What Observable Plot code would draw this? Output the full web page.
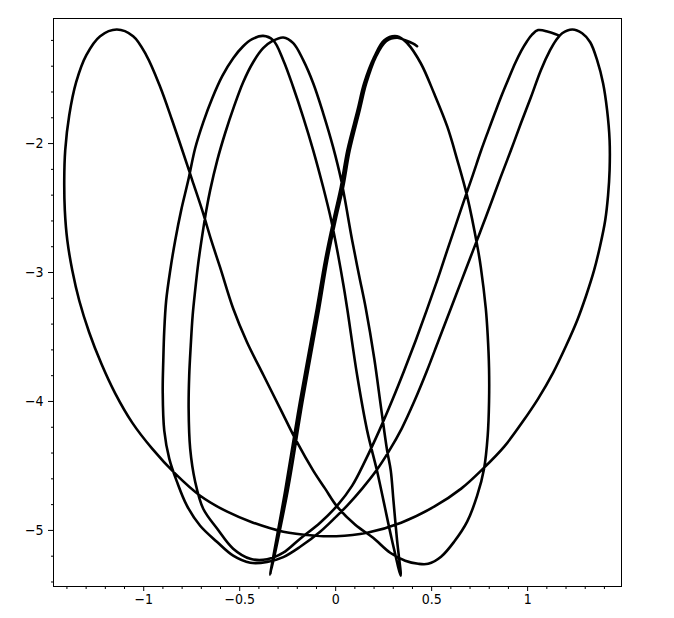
<!DOCTYPE html>
<html>
<head>
<meta charset="utf-8">
<script src="https://cdn.jsdelivr.net/npm/d3@7"></script>
<script src="https://cdn.jsdelivr.net/npm/@observablehq/plot@0.6"></script>
<style>
  html, body { margin: 0; padding: 0; background: #ffffff; }
  #chart { width: 674px; height: 618px; }
</style>
</head>
<body>
<div id="chart"></div>
<script>
// Parametric curve (one continuous path)
const curveX = [
  1.159, 1.107, 1.055, 1.023, 0.997, 0.966, 0.935, 0.904, 0.867, 0.831, 0.794, 0.758,
  0.714, 0.669, 0.625, 0.581, 0.529, 0.474, 0.417, 0.357, 0.294, 0.227, 0.154, 0.086,
  0.008, -0.081, -0.185, -0.273, -0.357, -0.445, -0.534, -0.617, -0.690, -0.732, -0.758, -0.766,
  -0.763, -0.755, -0.745, -0.732, -0.716, -0.695, -0.674,
  -0.654, -0.617, -0.576, -0.529, -0.482, -0.430, -0.378, -0.331, -0.273,
  -0.221, -0.169, -0.117, -0.065, -0.013, 0.029, 0.086, 0.122, 0.157, 0.201, 0.237, 0.268, 0.287, 0.301, 0.320, 0.339,
  0.294, 0.249, 0.215, 0.164, 0.112, 0.060, 0.039, 0.013, -0.023, -0.065, -0.117, -0.169, -0.221, -0.273, -0.326, -0.378,
  -0.435, -0.482, -0.534, -0.591, -0.643, -0.690, -0.732, -0.768, -0.805, -0.836,
  -0.862, -0.883, -0.893, -0.898, -0.901, -0.893, -0.867, -0.827, -0.775, -0.706,
  -0.619, -0.534, -0.445, -0.357, -0.273,
  -0.185, -0.081, -0.003, 0.061, 0.138, 0.208, 0.276, 0.344, 0.409, 0.474,
  0.536, 0.596, 0.656, 0.716, 0.766, 0.815, 0.859, 0.913, 0.965, 1.017,
  1.069, 1.117, 1.148, 1.180, 1.233,
  1.284, 1.326, 1.362, 1.393, 1.414, 1.427, 1.427, 1.419, 1.404, 1.378,
  1.346, 1.305, 1.258, 1.201, 1.133, 1.055, 0.971, 0.878, 0.768, 0.654,
  0.513, 0.341, 0.164, 0.003, -0.117, -0.273, -0.430, -0.565, -0.706, -0.836,
  -0.956, -1.060, -1.148, -1.221, -1.284, -1.336, -1.372, -1.398, -1.411, -1.414,
  -1.409, -1.388, -1.352, -1.299, -1.227, -1.140,
  -1.055, -0.987, -0.914, -0.852, -0.799, -0.747, -0.695, -0.648, -0.602, -0.534,
  -0.463, -0.376, -0.289, -0.202, -0.117, -0.055, 0.008, 0.102, 0.195, 0.284,
  0.362, 0.430, 0.482, 0.549, 0.617, 0.685, 0.737, 0.773, 0.792, 0.799,
  0.799, 0.792, 0.782, 0.756, 0.739, 0.686, 0.634, 0.582, 0.513, 0.444,
  0.374, 0.320,
  0.253, 0.201, 0.148, 0.114, 0.061, 0.027, -0.008, -0.055, -0.098, -0.185,
  -0.263, -0.341, -0.250, -0.172, -0.086, -0.044, 0.003, 0.039, 0.073, 0.125,
  0.159, 0.211, 0.263, 0.320, 0.362, 0.404, 0.424
];
const curveY = [
  -1.159, -1.132, -1.120, -1.155, -1.206, -1.283, -1.377, -1.485, -1.617, -1.757, -1.905, -2.052,
  -2.246, -2.440, -2.634, -2.828, -3.061, -3.294, -3.527, -3.760, -3.993, -4.226, -4.459, -4.653,
  -4.808, -4.940, -5.064, -5.173, -5.224, -5.220, -5.142, -4.987, -4.832, -4.622, -4.366, -4.055,
  -3.799, -3.566, -3.333, -3.139, -2.929, -2.712, -2.518,
  -2.363, -2.130, -1.920, -1.710, -1.524, -1.369, -1.260, -1.206, -1.177,
  -1.221, -1.353, -1.532, -1.765, -2.029, -2.285, -2.751, -3.023, -3.279, -3.667, -4.055, -4.381, -4.536, -4.769, -5.080, -5.352,
  -5.080, -4.769, -4.536, -4.226, -3.799, -3.279, -3.085, -2.867, -2.596, -2.339, -2.052, -1.796, -1.563, -1.353, -1.198, -1.165,
  -1.190, -1.245, -1.338, -1.477, -1.648, -1.835, -2.036, -2.285, -2.518, -2.751,
  -2.984, -3.217, -3.450, -3.682, -3.923, -4.226, -4.443, -4.622, -4.808, -4.964,
  -5.088, -5.196, -5.251, -5.245, -5.207,
  -5.127, -5.010, -4.901, -4.806, -4.676, -4.544, -4.389, -4.210, -4.001, -3.768,
  -3.527, -3.294, -3.061, -2.828, -2.634, -2.440, -2.262, -2.052, -1.842, -1.641,
  -1.431, -1.276, -1.198, -1.144, -1.115,
  -1.144, -1.214, -1.353, -1.532, -1.741, -1.974, -2.207, -2.401, -2.596, -2.790,
  -2.984, -3.178, -3.372, -3.566, -3.776, -3.978, -4.164, -4.350, -4.521, -4.676,
  -4.816, -4.940, -5.018, -5.045, -5.039, -5.010, -4.940, -4.855, -4.731, -4.560,
  -4.366, -4.164, -3.939, -3.706, -3.465, -3.217, -2.984, -2.751, -2.518, -2.285,
  -2.052, -1.780, -1.524, -1.314, -1.167, -1.115,
  -1.167, -1.314, -1.561, -1.819, -2.052, -2.285, -2.518, -2.751, -2.960, -3.279,
  -3.537, -3.797, -4.055, -4.314, -4.536, -4.676, -4.816, -4.956, -5.057, -5.173,
  -5.235, -5.259, -5.259, -5.204, -5.088, -4.932, -4.731, -4.521, -4.265, -4.001,
  -3.745, -3.488, -3.279, -2.958, -2.803, -2.415, -2.130, -1.871, -1.612, -1.379,
  -1.224, -1.167,
  -1.198, -1.328, -1.534, -1.741, -2.052, -2.337, -2.570, -2.906, -3.279, -3.993,
  -4.692, -5.344, -4.692, -3.993, -3.279, -2.906, -2.570, -2.337, -2.052, -1.741,
  -1.534, -1.322, -1.206, -1.179, -1.198, -1.225, -1.245
];

// Axis ticks
const xTickLabels = [-1, -0.5, 0, 0.5, 1];
const xMinorTicks = [-1.4, -1.3, -1.2, -1.1, -0.9, -0.8, -0.7, -0.6, -0.4, -0.3, -0.2, -0.1,
                     0.1, 0.2, 0.3, 0.4, 0.6, 0.7, 0.8, 0.9, 1.1, 1.2, 1.3, 1.4];
const yTickLabels = [-5, -4, -3, -2];
const yMinorTicks = [-5.4, -5.2, -4.8, -4.6, -4.4, -4.2, -3.8, -3.6, -3.4, -3.2,
                     -2.8, -2.6, -2.4, -2.2, -1.8, -1.6, -1.4, -1.2];
const xDomain = [-1.47, 1.489];
const yDomain = [-5.435, -1.03];

const n = Math.min(curveX.length, curveY.length);
const pts = curveX.slice(0, n).map((x, i) => ({x, y: curveY[i]}));
const fmt = d => (d < 0 ? "\u2212" : "") + String(Math.abs(d));

const chart = Plot.plot({
  width: 674,
  height: 618,
  marginLeft: 53,
  marginRight: 53,
  marginTop: 18,
  marginBottom: 32,
  x: {domain: xDomain},
  y: {domain: yDomain},
  style: {
    fontFamily: "'Liberation Sans Narrow', 'DejaVu Sans Condensed', Arial, sans-serif",
    fontSize: "14px",
    color: "black",
    background: "white",
    overflow: "visible"
  },
  marks: [
    Plot.axisX({ticks: xMinorTicks, tickSize: 3, tickFormat: () => "", label: null}),
    Plot.axisX({ticks: xTickLabels, tickSize: 5, tickPadding: 3, tickFormat: fmt, label: null}),
    Plot.axisY({ticks: yMinorTicks, tickSize: 2, tickFormat: () => "", label: null}),
    Plot.axisY({ticks: yTickLabels, tickSize: 5, tickPadding: 5, tickFormat: fmt, label: null}),
    Plot.frame({stroke: "black", strokeWidth: 1}),
    Plot.line(pts, {x: "x", y: "y", curve: "catmull-rom", stroke: "black",
                    strokeWidth: 2.6, strokeLinejoin: "round", strokeLinecap: "round"})
  ]
});
document.getElementById("chart").appendChild(chart);
</script>
</body>
</html>
